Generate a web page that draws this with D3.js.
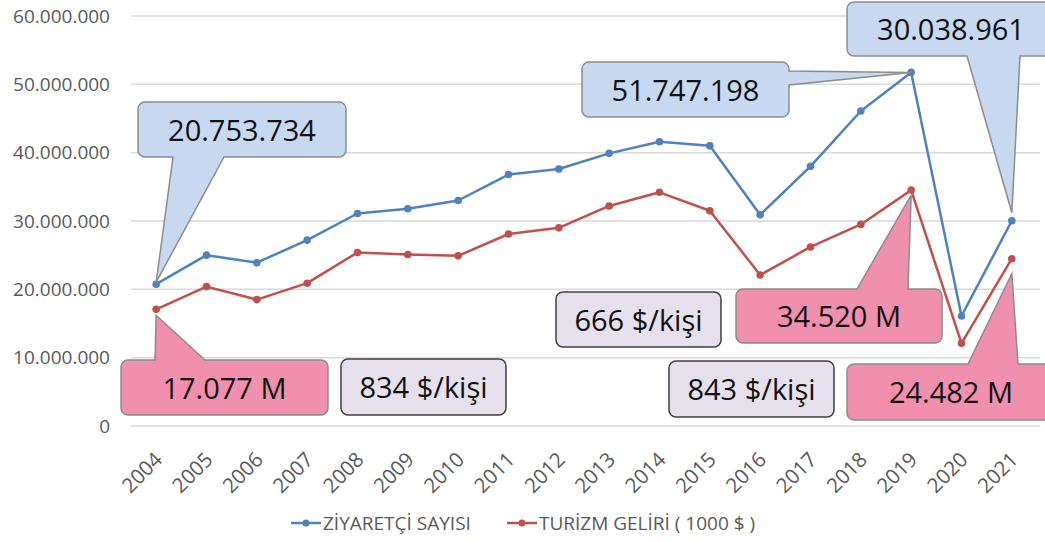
<!DOCTYPE html>
<html>
<head>
<meta charset="utf-8">
<script src="https://cdn.jsdelivr.net/npm/d3@7"></script>
<style>
  body { margin: 0; background: #fff; }
  text { font-family: "Open Sans", sans-serif; }
</style>
</head>
<body>
<div class="canvas"></div>
<script>
// data
const years = ['2004','2005','2006','2007','2008','2009','2010','2011','2012',
  '2013','2014','2015','2016','2017','2018','2019','2020','2021'];
const visitors = [20753734, 25000000, 23900000, 27200000, 31100000, 31800000, 33000000,
  36800000, 37600000, 39900000, 41600000, 41000000, 30900000, 38000000, 46100000,
  51747198, 16100000, 30038961];
const income = [17077000, 20400000, 18500000, 20900000, 25400000, 25100000, 24900000,
  28100000, 29000000, 32200000, 34200000, 31500000, 22100000, 26200000, 29500000,
  34520000, 12100000, 24482000];
const yTicks = [0, 10000000, 20000000, 30000000, 40000000, 50000000, 60000000];
const seriesNames = ['ZİYARETÇİ SAYISI', 'TURİZM GELİRİ ( 1000 $ )'];

// callouts pointing at a point: text, series, year
const callouts = [
  {text: '20.753.734', s: 0, year: '2004'},
  {text: '51.747.198', s: 0, year: '2019'},
  {text: '30.038.961', s: 0, year: '2021'},
  {text: '17.077 M', s: 1, year: '2004'},
  {text: '34.520 M', s: 1, year: '2019'},
  {text: '24.482 M', s: 1, year: '2021'}
];
const notes = ['834 $/kişi', '666 $/kişi', '843 $/kişi'];

// layout of the boxes (screen px)
const calloutBox = [
  {x: 138, y: 102, w: 208, h: 55, side: 'bottom', b1: 173, b2: 224, dy: -2},
  {x: 582, y: 62, w: 207, h: 55, side: 'right', b1: 71, b2: 85, dy: 0},
  {x: 847, y: 2, w: 208, h: 54, side: 'bottom', b1: 967, b2: 1020, dy: -8},
  {x: 121, y: 360, w: 207, h: 55, side: 'top', b1: 155, b2: 205, dy: 6},
  {x: 736, y: 289, w: 206, h: 54, side: 'top', b1: 857, b2: 908, dy: 5},
  {x: 847, y: 364, w: 208, h: 56, side: 'top', b1: 968, b2: 1018, dy: 15}
];
const noteBox = [
  {x: 341, y: 359, w: 165, h: 56},
  {x: 556, y: 292, w: 165, h: 55},
  {x: 669, y: 361, w: 165, h: 56}
];

const colors = ['#4f81bd', '#c0504d'];
const fills = ['#c6d9f1', '#f08fae'];

const width = 1045, height = 542;
const svg = d3.select('.canvas')
  .append('svg')
  .attr('width', width)
  .attr('height', height);

const x = d3.scalePoint()
  .domain(years)
  .range([131, 1037])
  .padding(0.5);

const y = d3.scaleLinear()
  .domain([0, 60000000])
  .range([426, 16]);

const fmt = d3.formatLocale({decimal: ',', thousands: '.', grouping: [3]}).format(',d');

// grid
svg.append('g')
  .selectAll('line')
  .data(yTicks)
  .enter()
  .append('line')
  .attr('x1', 131).attr('x2', 1040)
  .attr('y1', d => y(d)).attr('y2', d => y(d))
  .attr('stroke', '#d9d9d9')
  .attr('stroke-width', 1.5);

// y axis
const yAxis = d3.axisLeft(y).tickValues(yTicks).tickFormat(fmt).tickSize(0).tickPadding(0);
svg.append('g')
  .attr('transform', 'translate(110,0)')
  .call(yAxis)
  .call(g => g.select('.domain').remove())
  .selectAll('text')
  .attr('font-family', '"Open Sans", sans-serif')
  .attr('font-size', 19)
  .attr('fill', '#595959');

// x axis
const xAxis = d3.axisBottom(x).tickSize(0).tickPadding(0);
svg.append('g')
  .attr('transform', 'translate(0,426)')
  .call(xAxis)
  .call(g => g.select('.domain').remove())
  .selectAll('text')
  .attr('font-family', '"Open Sans", sans-serif')
  .attr('font-size', 20.5)
  .attr('fill', '#595959')
  .attr('text-anchor', 'end')
  .attr('dy', 0)
  .attr('transform', 'translate(7,35) rotate(-45)');

// lines
const line = d3.line()
  .x((d, i) => x(years[i]))
  .y(d => y(d));

[visitors, income].forEach((vals, s) => {
  svg.append('path')
    .datum(vals)
    .attr('d', line)
    .attr('fill', 'none')
    .attr('stroke', colors[s])
    .attr('stroke-width', 2.5)
    .attr('stroke-linejoin', 'round');
  svg.append('g')
    .selectAll('circle')
    .data(vals)
    .enter()
    .append('circle')
    .attr('cx', (d, i) => x(years[i]))
    .attr('cy', d => y(d))
    .attr('r', 3.8)
    .attr('fill', colors[s]);
});

// callout shape: rounded box with a wedge to (tx, ty)
function calloutPath(b, tx, ty) {
  const r = 7, x0 = b.x, y0 = b.y, x1 = b.x + b.w, y1 = b.y + b.h;
  const p = d3.path();
  p.moveTo(x0 + r, y0);
  if (b.side === 'top') { p.lineTo(b.b1, y0); p.lineTo(tx, ty); p.lineTo(b.b2, y0); }
  p.lineTo(x1 - r, y0);
  p.arcTo(x1, y0, x1, y0 + r, r);
  if (b.side === 'right') { p.lineTo(x1, b.b1); p.lineTo(tx, ty); p.lineTo(x1, b.b2); }
  p.lineTo(x1, y1 - r);
  p.arcTo(x1, y1, x1 - r, y1, r);
  if (b.side === 'bottom') { p.lineTo(b.b2, y1); p.lineTo(tx, ty); p.lineTo(b.b1, y1); }
  p.lineTo(x0 + r, y1);
  p.arcTo(x0, y1, x0, y1 - r, r);
  p.lineTo(x0, y0 + r);
  p.arcTo(x0, y0, x0 + r, y0, r);
  p.closePath();
  return p.toString();
}

const series = [visitors, income];
callouts.forEach((c, i) => {
  const b = calloutBox[i];
  const idx = years.indexOf(c.year);
  const tx = x(c.year), ty = y(series[c.s][idx]) + b.dy;
  svg.append('path')
    .attr('d', calloutPath(b, tx, ty))
    .attr('fill', fills[c.s])
    .attr('stroke', '#8c8c8c')
    .attr('stroke-width', 1.5);
  svg.append('text')
    .attr('x', b.x + b.w / 2)
    .attr('y', b.y + b.h / 2 + 11)
    .attr('text-anchor', 'middle')
    .attr('font-size', 29)
    .attr('fill', '#111')
    .text(c.text);
});

notes.forEach((t, i) => {
  const b = noteBox[i];
  svg.append('rect')
    .attr('x', b.x).attr('y', b.y)
    .attr('width', b.w).attr('height', b.h)
    .attr('rx', 7)
    .attr('fill', '#e6e0ec')
    .attr('stroke', '#404040')
    .attr('stroke-width', 1.5);
  svg.append('text')
    .attr('x', b.x + b.w / 2)
    .attr('y', b.y + b.h / 2 + 11)
    .attr('text-anchor', 'middle')
    .attr('font-size', 29)
    .attr('fill', '#111')
    .text(t);
});

// legend
const legendX = [291, 507];
seriesNames.forEach((name, s) => {
  const g = svg.append('g').attr('transform', `translate(${legendX[s]},523)`);
  g.append('line')
    .attr('x1', 0).attr('x2', 30)
    .attr('stroke', colors[s])
    .attr('stroke-width', 2.5);
  g.append('circle')
    .attr('cx', 15).attr('r', 3.5)
    .attr('fill', colors[s]);
  g.append('text')
    .attr('x', 32)
    .attr('dy', '0.35em')
    .attr('font-size', 19)
    .attr('fill', '#595959')
    .text(name);
});
</script>
</body>
</html>
